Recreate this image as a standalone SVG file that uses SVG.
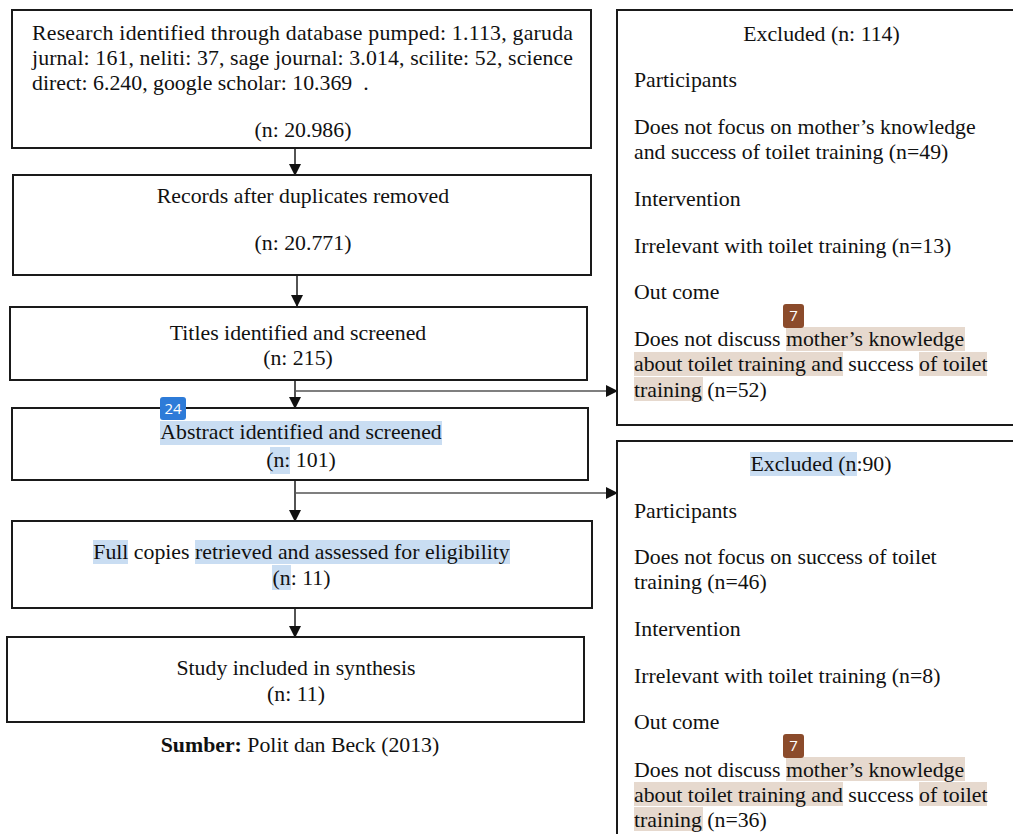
<svg xmlns="http://www.w3.org/2000/svg" width="1013" height="834" viewBox="0 0 1013 834">
<style>
.box{fill:#fff;stroke:#1a1a1a;stroke-width:2}
.t{font-family:"Liberation Serif","Times New Roman",serif;font-size:21.8px;fill:#111}
.c{text-anchor:middle}
.hb{fill:#c9ddf2}
.hr{fill:#e6d9ce}
.ln{stroke:#1a1a1a;stroke-width:1.5;fill:none}
.br{stroke:#555;stroke-width:1.5;fill:none}
.badge{font-family:"Open Sans","DejaVu Sans",sans-serif;font-size:15px;fill:#fff;text-anchor:middle}
</style>
<defs>
<marker id="ah" markerWidth="12" markerHeight="12" refX="11" refY="6" orient="auto" markerUnits="userSpaceOnUse">
<path d="M0,0 L12,6 L0,12 z" fill="#111"/>
</marker>
</defs>
<rect width="1013" height="834" fill="#fff"/>

<g id="connectors">
<line class="ln" x1="295" y1="149" x2="295" y2="175" marker-end="url(#ah)"/>
<line class="ln" x1="297" y1="276" x2="297" y2="306" marker-end="url(#ah)"/>
<line class="ln" x1="295" y1="381" x2="295" y2="408" marker-end="url(#ah)"/>
<line class="br" x1="295" y1="391" x2="617" y2="391" marker-end="url(#ah)"/>
<line class="ln" x1="295" y1="481" x2="295" y2="521" marker-end="url(#ah)"/>
<line class="br" x1="295" y1="493" x2="617" y2="493" marker-end="url(#ah)"/>
<line class="ln" x1="295" y1="609" x2="295" y2="637" marker-end="url(#ah)"/>
</g>

<g id="n1">
<rect class="box" x="12" y="10" width="579" height="138"/>
<text class="t" x="32" y="40" textLength="541" lengthAdjust="spacing">Research identified through database pumped: 1.113, garuda</text>
<text class="t" x="32" y="65" textLength="541" lengthAdjust="spacing">jurnal: 161, neliti: 37, sage journal: 3.014, scilite: 52, science</text>
<text class="t" x="32" y="90">direct: 6.240, google scholar: 10.369&#160; .</text>
<text class="t c" x="303" y="137">(n: 20.986)</text>
</g>

<g id="n2">
<rect class="box" x="13" y="175" width="578" height="100"/>
<text class="t c" x="303" y="203">Records after duplicates removed</text>
<text class="t c" x="303" y="250">(n: 20.771)</text>
</g>

<g id="n3">
<rect class="box" x="10" y="307" width="577" height="73"/>
<text class="t c" x="298" y="340">Titles identified and screened</text>
<text class="t c" x="298" y="365">(n: 215)</text>
</g>

<g id="n4">
<rect class="box" x="12" y="408" width="576" height="72"/>
<rect class="hb" x="160" y="421" width="282" height="24"/>
<rect class="hb" x="270" y="447" width="20" height="27"/>
<text class="t c" x="301" y="439">Abstract identified and screened</text>
<text class="t c" x="301" y="467">(n: 101)</text>
<rect x="160" y="397" width="26" height="23" rx="3" fill="#2d7bd8"/>
<text class="badge" x="173" y="414">24</text>
</g>

<g id="n5">
<rect class="box" x="12" y="521" width="580" height="87"/>
<rect class="hb" x="93" y="540" width="35" height="24"/>
<rect class="hb" x="195" y="540" width="315" height="24"/>
<rect class="hb" x="272" y="565" width="19" height="25"/>
<text class="t c" x="301.5" y="559">Full copies retrieved and assessed for eligibility</text>
<text class="t c" x="301.5" y="585">(n: 11)</text>
</g>

<g id="n6">
<rect class="box" x="7" y="637" width="577" height="85"/>
<text class="t c" x="296" y="675">Study included in synthesis</text>
<text class="t c" x="296" y="701">(n: 11)</text>
</g>

<g id="caption">
<text class="t c" x="300" y="752"><tspan font-weight="bold">Sumber:</tspan> Polit dan Beck (2013)</text>
</g>

<g id="excl1">
<rect class="box" x="617" y="10" width="400" height="415"/>
<text class="t c" x="821.5" y="41">Excluded (n: 114)</text>
<text class="t" x="634" y="87">Participants</text>
<text class="t" x="634" y="134">Does not focus on mother’s knowledge</text>
<text class="t" x="634" y="159">and success of toilet training (n=49)</text>
<text class="t" x="634" y="206">Intervention</text>
<text class="t" x="634" y="253">Irrelevant with toilet training (n=13)</text>
<text class="t" x="634" y="299">Out come</text>
<rect class="hr" x="786" y="327" width="179" height="24"/>
<rect class="hr" x="634" y="352" width="209" height="24"/>
<rect class="hr" x="919" y="352" width="68" height="24"/>
<rect class="hr" x="634" y="377" width="69" height="24"/>
<text class="t" x="634" y="346">Does not discuss mother’s knowledge</text>
<text class="t" x="634" y="371">about toilet training and success of toilet</text>
<text class="t" x="634" y="397">training (n=52)</text>
<rect x="783" y="304" width="21" height="24" rx="3" fill="#8b4b2b"/>
<text class="badge" x="793.5" y="321">7</text>
</g>

<g id="excl2">
<rect class="box" x="617" y="441" width="400" height="400"/>
<rect class="hb" x="750" y="452" width="107" height="24"/>
<text class="t c" x="821" y="471">Excluded (n:90)</text>
<text class="t" x="634" y="518">Participants</text>
<text class="t" x="634" y="564">Does not focus on success of toilet</text>
<text class="t" x="634" y="589">training (n=46)</text>
<text class="t" x="634" y="636">Intervention</text>
<text class="t" x="634" y="683">Irrelevant with toilet training (n=8)</text>
<text class="t" x="634" y="729">Out come</text>
<rect class="hr" x="786" y="757" width="179" height="24"/>
<rect class="hr" x="634" y="782" width="209" height="24"/>
<rect class="hr" x="919" y="782" width="68" height="24"/>
<rect class="hr" x="634" y="807" width="69" height="24"/>
<text class="t" x="634" y="777">Does not discuss mother’s knowledge</text>
<text class="t" x="634" y="802">about toilet training and success of toilet</text>
<text class="t" x="634" y="827">training (n=36)</text>
<rect x="783" y="734" width="21" height="24" rx="3" fill="#8b4b2b"/>
<text class="badge" x="793.5" y="751">7</text>
</g>
</svg>
